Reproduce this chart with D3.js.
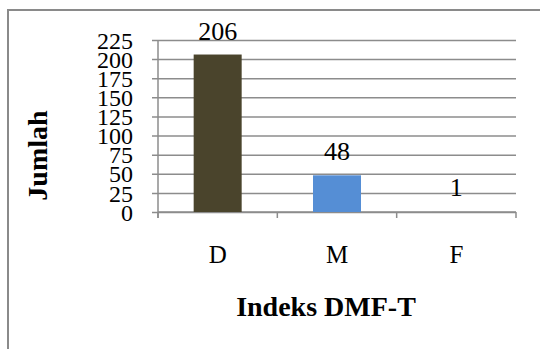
<!DOCTYPE html>
<html>
<head>
<meta charset="utf-8">
<script src="https://cdn.jsdelivr.net/npm/d3@7"></script>
<style>
  html, body { margin: 0; padding: 0; background: #fff; }
  svg { display: block; }
  svg text { font-family: "Times New Roman", "Liberation Serif", Tinos, serif; fill: #000; }
</style>
</head>
<body>
<svg id="chart" width="540" height="349"></svg>
<script>
// DMF-T index counts
const categories = ["D", "M", "F"];
const values = [206, 48, 1];
const barColors = ["#4a442c", "#558ed5", "#a0a0a0"];
const yTicks = [0, 25, 50, 75, 100, 125, 150, 175, 200, 225];
const yTitle = "Jumlah";
const xTitle = "Indeks DMF-T";

const serif = "'Times New Roman', 'Liberation Serif', Tinos, serif";
const svg = d3.select("#chart").attr("font-family", serif);
const plot = { left: 158, right: 516, top: 40, bottom: 212 };

// outer chart frame (runs off the right and bottom edges)
svg.append("path")
  .attr("d", "M8,360 L8,10 L560,10")
  .attr("fill", "none")
  .attr("stroke", "#8a8a8a")
  .attr("stroke-width", 2);

const x = d3.scaleBand().domain(categories).range([plot.left, plot.right]).paddingInner(0).paddingOuter(0);
const y = d3.scaleLinear().domain([0, 225]).range([plot.bottom, plot.top]);

// horizontal gridlines + y tick labels
const yAxis = d3.axisLeft(y).tickValues(yTicks).tickSize(plot.right - plot.left + 6).tickPadding(19).tickFormat(d3.format("d"));
const gy = svg.append("g").attr("transform", `translate(${plot.right},0)`).call(yAxis);
gy.attr("font-family", serif).attr("font-size", 24);
gy.select(".domain").remove();
gy.selectAll(".tick line").attr("stroke", "#8c8c8c").attr("stroke-width", 1.5);
gy.selectAll(".tick text")
  .attr("font-family", serif)
  .attr("font-size", 24)
  .attr("fill", "#000")
  .attr("dy", "0.34em");

// vertical axis line
svg.append("line")
  .attr("x1", plot.left).attr("x2", plot.left)
  .attr("y1", plot.top).attr("y2", plot.bottom + 6)
  .attr("stroke", "#8c8c8c").attr("stroke-width", 1.5);

// x axis baseline with category boundary ticks
svg.append("line")
  .attr("x1", plot.left).attr("x2", plot.right)
  .attr("y1", y(0)).attr("y2", y(0))
  .attr("stroke", "#8c8c8c").attr("stroke-width", 1.5);
const bounds = categories.map(c => x(c)).concat([x(categories[categories.length - 1]) + x.bandwidth()]);
svg.selectAll(".xtick").data(bounds).enter().append("line")
  .attr("x1", d => d).attr("x2", d => d)
  .attr("y1", y(0)).attr("y2", y(0) + 6)
  .attr("stroke", "#8c8c8c").attr("stroke-width", 1.5);

// bars
const barW = 48;
svg.selectAll(".bar").data(values).enter().append("rect")
  .attr("x", (d, i) => x(categories[i]) + x.bandwidth() / 2 - barW / 2)
  .attr("y", d => y(d))
  .attr("width", barW)
  .attr("height", d => y(0) - y(d))
  .attr("fill", (d, i) => barColors[i]);

// value labels
svg.selectAll(".val").data(values).enter().append("text")
  .attr("x", (d, i) => x(categories[i]) + x.bandwidth() / 2)
  .attr("y", d => y(d) - 15)
  .attr("text-anchor", "middle")
  .attr("font-size", 26)
  .text(d => d);

// category labels
svg.selectAll(".cat").data(categories).enter().append("text")
  .attr("x", d => x(d) + x.bandwidth() / 2)
  .attr("y", 262.5)
  .attr("text-anchor", "middle")
  .attr("font-size", 25)
  .text(d => d);

// axis titles
svg.append("text")
  .attr("transform", "translate(47,155.5) rotate(-90)")
  .attr("text-anchor", "middle")
  .attr("font-size", 28)
  .attr("font-weight", "bold")
  .text(yTitle);

svg.append("text")
  .attr("x", 326)
  .attr("y", 316)
  .attr("text-anchor", "middle")
  .attr("font-size", 28)
  .attr("font-weight", "bold")
  .text(xTitle);
</script>
</body>
</html>
